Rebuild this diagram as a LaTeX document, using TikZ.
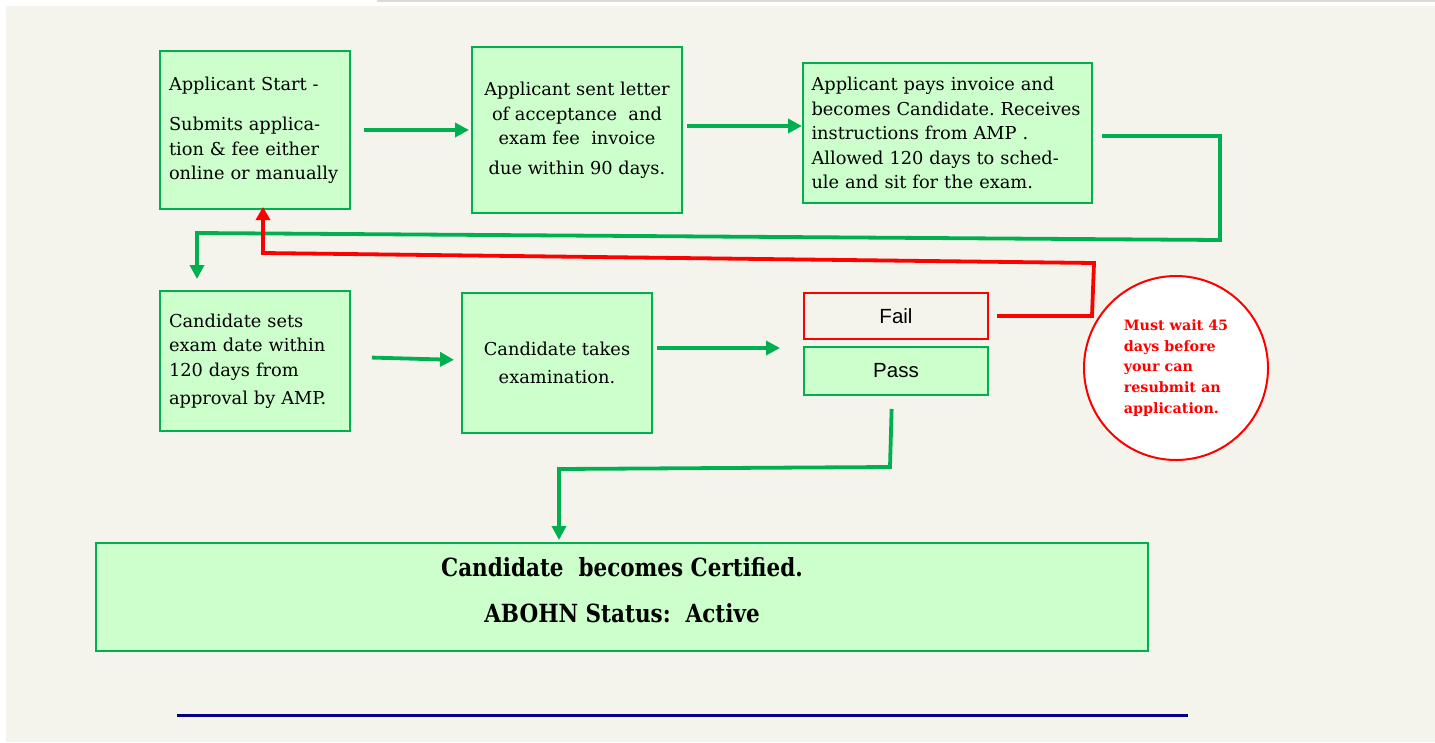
\documentclass[tikz,border=0pt]{standalone}
\usepackage{fontspec}
\setmainfont{DejaVu Serif}
\newfontfamily\passfont{Liberation Sans}
\newfontface\certfont[FakeStretch=0.86]{DejaVu Serif Bold}
\usetikzlibrary{arrows.meta}
\definecolor{paper}{RGB}{244, 244, 236}
\definecolor{boxfill}{RGB}{204, 255, 204}
\definecolor{boxline}{RGB}{0, 176, 80}
\definecolor{navy}{RGB}{0, 0, 128}
\definecolor{rule}{RGB}{217, 217, 217}
\frenchspacing

\begin{document}
\begin{tikzpicture}[x=1pt, y=-1pt,
  stage/.style={draw=boxline, line width=2pt, fill=boxfill, inner sep=0pt,
    font=\fontsize{17.8}{24.5}\selectfont},
  flow/.style={draw=boxline, line width=3.8pt, -{Triangle[length=14pt, width=14pt]}},
  redflow/.style={draw=red, line width=3.8pt, -{Triangle[length=13pt, width=14pt]}}]
  \useasboundingbox (0, 0) rectangle (1435, 742);
  \fill[paper] (6, 6) rectangle (1435, 742);
  \draw[rule, line width=2pt] (377, 1) -- (1435, 1);

  \node[stage, minimum width=190pt, minimum height=158pt, text width=172pt, align=left] (app) at (255, 130)
    {Applicant Start -\\[16pt]Submits applica-\\tion \& fee either\\online or manually};
  \node[stage, minimum width=210pt, minimum height=166pt, align=center] (letter) at (577, 130)
    {Applicant sent letter\\of acceptance\ \ and\\exam fee\ \ invoice\\[5pt]due within 90 days.};
  \node[stage, minimum width=289pt, minimum height=140pt, text width=272pt, align=left] (pays) at (947.5, 133)
    {Applicant pays invoice and\\becomes Candidate. Receives\\instructions from AMP .\\Allowed 120 days to sched-\\ule and sit for the exam.};
  \node[stage, minimum width=190pt, minimum height=140pt, text width=172pt, align=left] (sets) at (255, 361)
    {Candidate sets\\exam date within\\120 days from\\[4pt]approval by AMP.};
  \node[stage, minimum width=190pt, minimum height=140pt, align=center] (takes) at (557, 363)
    {Candidate takes\\[4pt]examination.};
  \node[draw=red, line width=2pt, minimum width=184pt, minimum height=46pt, inner sep=0pt,
    font=\passfont\fontsize{20.5}{24}\selectfont] (fail) at (896, 316) {Fail};
  \node[stage, minimum width=184pt, minimum height=48pt, font=\passfont\fontsize{20.5}{24}\selectfont] (pass) at (896, 371) {Pass};
  \node[stage, minimum width=1052pt, minimum height=108pt, align=center,
    font=\certfont\fontsize{25}{46}\selectfont] (cert) at (622, 597)
    {Candidate\ \ becomes Certified.\\ABOHN Status:\ \ Active\\[-32pt]\mbox{}};

  % forward arrows
  \draw[flow, shorten <=13pt, shorten >=2pt] (app.east) -- (letter.west);
  \draw[flow, shorten <=4pt] ([yshift=4pt]letter.east) -- ([yshift=4pt]letter.east -| pays.west);
  \draw[flow, shorten <=21pt, shorten >=7pt] ([yshift=4pt]sets.east) -- ([yshift=3pt]takes.west);
  \coordinate (split) at (780, 348);
  \draw[flow, shorten <=4pt] ([yshift=15pt]takes.east) -- (split);

  % back to the second row
  \coordinate (turn1) at (1220, 136);
  \coordinate (turn2) at (1220, 240);
  \coordinate (turn3) at (197, 233);
  \draw[flow, shorten <=9pt, shorten >=11pt] (pays.east |- turn1) -- (turn1) -- (turn2) -- (turn3) -- (turn3 |- sets.north);

  % failed: start again
  \coordinate (back1) at (1092, 316);
  \coordinate (back2) at (1094, 263);
  \coordinate (back3) at (263, 253);
  \draw[redflow, shorten <=8pt, shorten >=-3pt] (fail.east) -- (back1) -- (back2) -- (back3) -- (back3 |- app.south);

  % passed
  \coordinate (down1) at (890, 467);
  \coordinate (down2) at (559, 469);
  \draw[flow, shorten <=13pt, shorten >=2pt] ([xshift=-4pt]pass.south) -- (down1) -- (down2) -- (down2 |- cert.north);

  \node[circle, draw=red, line width=2pt, fill=white, minimum size=184pt, inner sep=0pt, text=red,
    font=\bfseries\fontsize{14.3}{20.7}\selectfont, align=left] (wait) at (1176, 368)
    {Must wait 45\\days before\\your can\\resubmit an\\application.};

  \draw[navy, line width=3pt] (177, 715) -- (1188, 715);
\end{tikzpicture}
\end{document}
